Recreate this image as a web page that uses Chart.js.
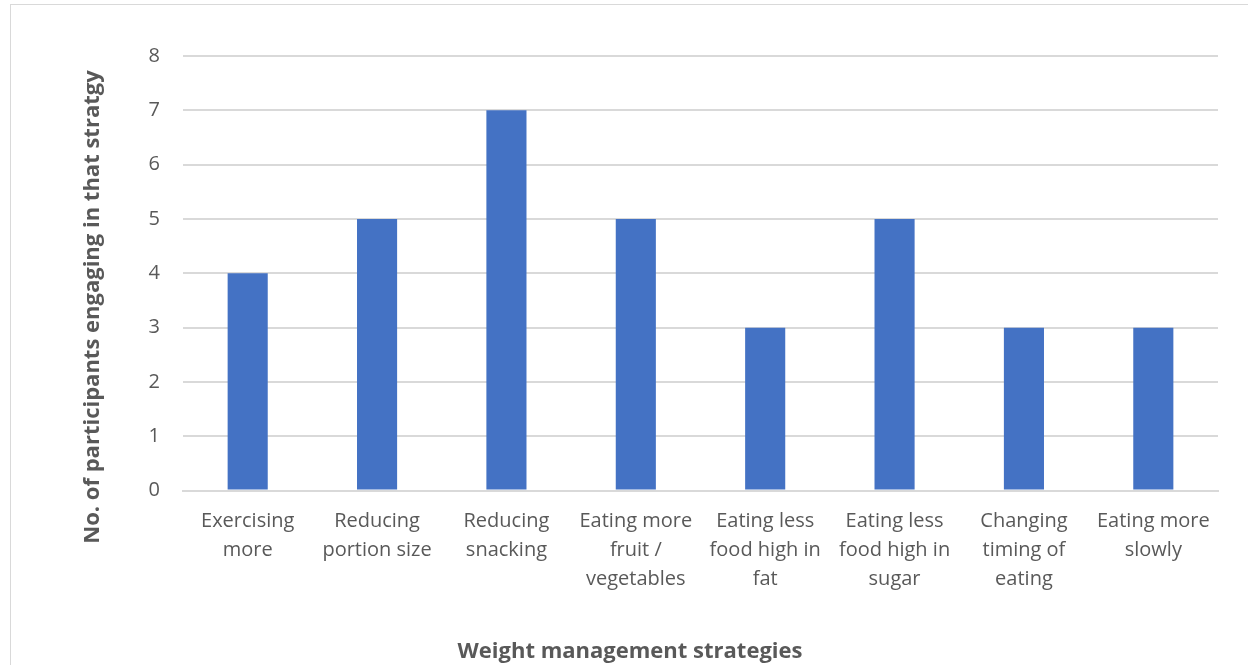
<!DOCTYPE html>
<html>
<head>
<meta charset="utf-8">
<script src="https://cdn.jsdelivr.net/npm/chart.js@4/dist/chart.umd.min.js"></script>
<style>
    html, body { margin: 0; padding: 0; background: #fff; overflow: hidden; }
    #wrap { position: relative; width: 1248px; height: 665px; }
    #frame { position: absolute; left: 10px; top: 4px; width: 1260px; height: 700px; border: 1px solid #d9d9d9; box-sizing: border-box; }
    #mycanvas { position: absolute; left: 0; top: 0; }
</style>
</head>
<body>
<div id="wrap">
    <div id="frame"></div>
    <canvas id="mycanvas" width="1248" height="665"></canvas>
</div>
<script>
var strategies = [
    ["Exercising", "more"],
    ["Reducing", "portion size"],
    ["Reducing", "snacking"],
    ["Eating more", "fruit /", "vegetables"],
    ["Eating less", "food high in", "fat"],
    ["Eating less", "food high in", "sugar"],
    ["Changing", "timing of", "eating"],
    ["Eating more", "slowly"]
];
var participants = [4, 5, 7, 5, 3, 5, 3, 3];
var yTicks = [0, 1, 2, 3, 4, 5, 6, 7, 8];
var xTitle = 'Weight management strategies';
var yTitle = 'No. of participants engaging in that stratgy';

var fontFamily = "'Open Sans', 'Liberation Sans', sans-serif";
var textColor = '#595959';
var gridColor = '#d9d9d9';

// vertical axis title, centred on the whole chart rather than the plot area
var yTitlePlugin = {
    id: 'yTitle',
    afterDraw: function (chart) {
        var c = chart.ctx;
        c.save();
        c.translate(93, 307);
        c.rotate(-Math.PI / 2);
        c.fillStyle = textColor;
        c.font = 'bold 22px ' + fontFamily;
        c.textAlign = 'center';
        c.textBaseline = 'middle';
        c.fillText(yTitle, 0, 0);
        c.restore();
    }
};

var chartdata = {
    labels: strategies,
    datasets: [
        {
            label: 'Participants',
            backgroundColor: '#4472c4',
            borderWidth: 0,
            categoryPercentage: 1.0,
            barPercentage: 0.31,
            data: participants
        }
    ]
};

var ctx = document.getElementById('mycanvas');
var barGraph = new Chart(ctx, {
    type: 'bar',
    data: chartdata,
    plugins: [yTitlePlugin],
    options: {
        responsive: false,
        animation: false,
        events: [],
        layout: {
            padding: { left: 42, right: 30, top: 56, bottom: 0 }
        },
        plugins: {
            legend: { display: false },
            tooltip: { enabled: false },
            title: {
                display: true,
                position: 'bottom',
                text: xTitle,
                color: textColor,
                padding: 0,
                font: { family: fontFamily, size: 22, weight: 'bold', lineHeight: 1.2 }
            }
        },
        scales: {
            x: {
                grid: { display: false, drawTicks: false },
                border: { color: gridColor, width: 2 },
                ticks: {
                    autoSkip: false,
                    maxRotation: 0,
                    minRotation: 0,
                    padding: 16,
                    color: textColor,
                    font: { family: fontFamily, size: 20, lineHeight: 1.45 }
                },
                afterFit: function (scale) { scale.height = 148; }
            },
            y: {
                min: 0,
                max: 8,
                afterBuildTicks: function (scale) {
                    scale.ticks = yTicks.map(function (v) { return { value: v }; });
                },
                grid: { color: gridColor, lineWidth: 2, drawTicks: false },
                border: { display: false },
                ticks: {
                    padding: 23,
                    color: textColor,
                    font: { family: fontFamily, size: 20 }
                },
                afterFit: function (scale) { scale.width = 141; }
            }
        }
    }
});
</script>
</body>
</html>
